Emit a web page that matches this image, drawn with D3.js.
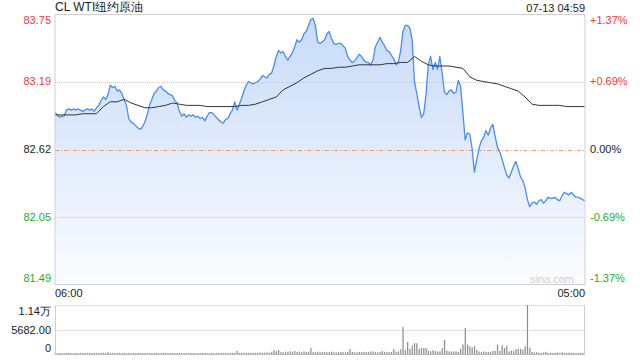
<!DOCTYPE html>
<html><head><meta charset="utf-8">
<script src="https://cdn.jsdelivr.net/npm/d3@7"></script>
<style>
html,body{margin:0;padding:0;background:#fff;}
svg{display:block;font-family:"Liberation Sans",Arial,sans-serif;}
</style></head>
<body><svg id="c" width="640" height="360"></svg>
<script>
// ---- data ----
const title = "CL WTI纽约原油";
const stamp = "07-13 04:59";
const prevClose = 82.62;
const pctTicks = [1.37, 0.69, 0, -0.69, -1.37];
const priceLabels = ["83.75", "83.19", "82.62", "82.05", "81.49"];
const pctLabels = ["+1.37%", "+0.69%", "0.00%", "-0.69%", "-1.37%"];
const timeLabels = ["06:00", "05:00"];
const volTicks = [11364, 5682, 0];
const volLabels = ["1.14万", "5682.00", "0"];
const sessionMinutes = 1380;       // 06:00 -> 05:00
const priceStep = 6;               // minutes between price samples
const avgStep = 18;                // minutes between avg samples
const lastMinute = 1379;           // 04:59

const prices = [
82.93,82.91,82.89,82.90,82.90,82.95,82.96,82.95,82.96,82.95,
82.96,82.95,82.94,82.95,82.96,82.95,82.96,82.94,82.97,82.99,
83.03,83.06,83.04,83.08,83.16,83.14,83.15,83.11,83.12,83.09,
83.04,82.99,82.88,82.85,82.84,82.82,82.80,82.79,82.81,82.85,
82.91,82.99,83.04,83.09,83.11,83.14,83.15,83.12,83.11,83.09,
83.08,83.07,83.03,83.01,82.94,82.90,82.92,82.89,82.91,82.90,
82.91,82.89,82.90,82.88,82.89,82.86,82.90,82.93,82.93,82.91,
82.89,82.87,82.85,82.84,82.87,82.88,82.92,82.95,83.02,82.95,
83.00,83.05,83.11,83.16,83.19,83.18,83.17,83.18,83.19,83.21,
83.24,83.23,83.22,83.25,83.26,83.32,83.40,83.45,83.43,83.44,
83.40,83.37,83.40,83.43,83.48,83.54,83.52,83.54,83.59,83.61,
83.66,83.71,83.72,83.66,83.52,83.51,83.52,83.54,83.59,83.61,
83.55,83.51,83.50,83.51,83.51,83.49,83.47,83.40,83.37,83.35,
83.36,83.39,83.42,83.40,83.37,83.35,83.35,83.33,83.37,83.48,
83.52,83.56,83.52,83.49,83.45,83.44,83.41,83.38,83.33,83.35,
83.45,83.61,83.66,83.66,83.64,83.54,83.19,83.09,82.98,82.89,
82.92,83.08,83.33,83.40,83.29,83.35,83.29,83.40,83.26,83.10,
83.08,83.11,83.12,83.09,83.10,83.20,83.15,82.93,82.70,82.76,
82.75,82.63,82.43,82.53,82.63,82.69,82.72,82.78,82.74,82.80,
82.83,82.73,82.64,82.60,82.54,82.47,82.41,82.38,82.43,82.48,
82.52,82.46,82.39,82.36,82.30,82.20,82.14,82.17,82.18,82.16,
82.19,82.20,82.17,82.19,82.22,82.21,82.21,82.22,82.20,82.19,
82.23,82.26,82.25,82.24,82.26,82.24,82.22,82.22,82.21,82.20,
82.19
];

const avgPrices = [
82.91,82.91,82.91,82.91,82.92,82.92,82.92,82.98,83.02,83.02,
83.04,83.01,82.99,82.97,82.97,82.98,82.99,83.01,83.00,82.99,
82.99,82.99,82.98,82.98,82.98,82.98,82.98,82.99,82.99,83.00,
83.02,83.04,83.06,83.12,83.15,83.18,83.22,83.25,83.28,83.30,
83.30,83.31,83.31,83.32,83.33,83.33,83.33,83.33,83.34,83.34,
83.35,83.35,83.40,83.36,83.33,83.32,83.32,83.32,83.31,83.30,
83.23,83.20,83.19,83.18,83.17,83.15,83.13,83.11,83.06,83.00,
82.99,82.99,82.99,82.99,82.98,82.98,82.98,
82.98
];

const volumes = [
210,180,250,200,170,230,260,190,220,240,
180,210,260,230,200,190,250,220,180,240,
300,260,220,480,250,210,190,230,260,200,
220,180,240,210,190,230,270,200,250,220,
190,210,240,260,230,200,180,220,250,210,
230,200,190,240,260,220,200,180,210,230,
250,200,190,220,240,260,210,190,230,200,
220,240,210,190,260,230,200,220,240,700,
280,300,260,320,240,280,310,260,300,340,
280,320,360,300,520,880,640,900,420,380,
560,460,620,520,700,480,560,400,620,460,
520,1400,480,420,560,380,460,520,400,480,
540,420,380,460,500,420,380,520,1160,460,
420,380,500,440,520,460,480,560,600,420,
380,460,700,480,520,420,460,1160,540,600,
1100,6260,900,2780,1200,2000,2500,2500,1200,1400,
1400,1400,800,600,900,700,560,620,1400,3250,
800,620,540,600,600,480,1200,2200,6030,2200,
1800,1500,1800,1000,560,420,600,480,520,440,
700,700,2200,700,2000,1400,1900,600,800,700,
1100,1200,1200,1000,1800,11364,1400,480,360,420,
300,280,340,500,260,300,240,280,320,260,
400,280,240,300,260,280,220,260,240,300
];

// ---- layout ----
const svg = d3.select("#c");
const L = 55, R = 585, T = 14.5, B = 284.5;
const VT = 305, VB = 354;

const x = d3.scaleLinear().domain([0, sessionMinutes]).range([L, R]);
const y = d3.scaleLinear().domain([prevClose * (1 - 0.0137), prevClose * (1 + 0.0137)]).range([B, T]);
const yv = d3.scaleLinear().domain([0, volTicks[0]]).range([VB, VT]);

const priceMin = (d, i) => (i === prices.length - 1 ? lastMinute : i * priceStep);
const avgMin = (d, i) => (i === avgPrices.length - 1 ? lastMinute : i * avgStep);

// gradient
const defs = svg.append("defs");
const g = defs.append("linearGradient").attr("id", "fillg")
  .attr("gradientUnits", "userSpaceOnUse").attr("x1", 0).attr("y1", T).attr("x2", 0).attr("y2", B);
g.append("stop").attr("offset", "0%").attr("stop-color", "#c6daf8");
g.append("stop").attr("offset", "100%").attr("stop-color", "#fbfcff");

// area
const area = d3.area().x((d, i) => x(priceMin(d, i))).y0(B).y1(d => y(d));
svg.append("path").datum(prices).attr("d", area).attr("fill", "url(#fillg)");

// grid lines
const tickVals = pctTicks.map(p => prevClose * (1 + p / 100));
svg.append("g").selectAll("line").data(tickVals.slice(1, 4)).join("line")
  .attr("x1", L).attr("x2", R)
  .attr("y1", d => Math.round(y(d)) + 0.5).attr("y2", d => Math.round(y(d)) + 0.5)
  .attr("stroke", (d, i) => i === 1 ? "#f0a070" : "#c8c8c8")
  .attr("stroke-width", 1)
  .attr("stroke-dasharray", (d, i) => i === 1 ? "4,2,1,2" : "1,1");

// watermark
svg.append("text").attr("x", 574).attr("y", 283).attr("text-anchor", "end")
  .attr("font-size", 11).attr("fill", "#d0d0d0").text("sina.com");

// price line
const line = d3.line().x((d, i) => x(priceMin(d, i))).y(d => y(d));
svg.append("path").datum(prices).attr("d", line).attr("fill", "none")
  .attr("stroke", "#4a8cf0").attr("stroke-width", 1.3).attr("stroke-linejoin", "round");

// avg line
const aline = d3.line().x((d, i) => x(avgMin(d, i))).y(d => y(d));
svg.append("path").datum(avgPrices).attr("d", aline).attr("fill", "none")
  .attr("stroke", "#333").attr("stroke-width", 1);

// frame
svg.append("rect").attr("x", L).attr("y", T).attr("width", R - L).attr("height", B - T)
  .attr("fill", "none").attr("stroke", "#cfcfcf").attr("stroke-width", 1);

// left labels
const colorFor = p => p > 0 ? "#f23a3a" : (p < 0 ? "#2aaa2a" : "#222");
const labelY = (d, i) => {
  const v = y(tickVals[i]);
  if (i === 0) return v + 6;
  if (i === pctTicks.length - 1) return v - 6;
  return v;
};
svg.append("g").selectAll("text").data(priceLabels).join("text")
  .attr("x", 51).attr("y", labelY).attr("dy", "0.35em").attr("text-anchor", "end")
  .attr("font-size", 11).attr("fill", (d, i) => colorFor(pctTicks[i])).text(d => d);
svg.append("g").selectAll("text").data(pctLabels).join("text")
  .attr("x", 590).attr("y", labelY).attr("dy", "0.35em").attr("text-anchor", "start")
  .attr("font-size", 11).attr("fill", (d, i) => colorFor(pctTicks[i])).text(d => d);

// title + stamp
svg.append("text").attr("x", 55).attr("y", 7).attr("dy", "0.35em")
  .attr("font-size", 12).attr("fill", "#222").text(title);
svg.append("text").attr("x", 585).attr("y", 8).attr("dy", "0.35em").attr("text-anchor", "end")
  .attr("font-size", 11).attr("fill", "#222").text(stamp);

// time labels
svg.append("text").attr("x", x(0)).attr("y", 293).attr("dy", "0.35em")
  .attr("font-size", 11).attr("fill", "#222").text(timeLabels[0]);
svg.append("text").attr("x", x(sessionMinutes)).attr("y", 293).attr("dy", "0.35em").attr("text-anchor", "end")
  .attr("font-size", 11).attr("fill", "#222").text(timeLabels[1]);

// volume grid
svg.append("g").selectAll("line").data(volTicks.slice(0, 2)).join("line")
  .attr("x1", L).attr("x2", R)
  .attr("y1", d => Math.round(yv(d)) + 0.5).attr("y2", d => Math.round(yv(d)) + 0.5)
  .attr("stroke", "#c8c8c8").attr("stroke-dasharray", "1,1");

// volume bars
svg.append("g").selectAll("rect").data(volumes).join("rect")
  .attr("x", (d, i) => x(i * priceStep) - 0.5)
  .attr("width", 1.2)
  .attr("y", d => yv(d))
  .attr("height", d => VB - yv(d))
  .attr("fill", "#8a8a8a");

// volume frame
svg.append("line").attr("x1", L + 0.5).attr("x2", L + 0.5).attr("y1", VT).attr("y2", VB).attr("stroke", "#cfcfcf");
svg.append("line").attr("x1", R - 0.5).attr("x2", R - 0.5).attr("y1", VT).attr("y2", VB).attr("stroke", "#cfcfcf");
svg.append("line").attr("x1", L).attr("x2", R).attr("y1", VB + 0.5).attr("y2", VB + 0.5).attr("stroke", "#bbb");

// volume labels
const vLabelY = [311, 330, 348];
svg.append("g").selectAll("text").data(volLabels).join("text")
  .attr("x", 51).attr("y", (d, i) => vLabelY[i]).attr("dy", "0.35em").attr("text-anchor", "end")
  .attr("font-size", 11).attr("fill", "#222").text(d => d);
</script></body></html>
